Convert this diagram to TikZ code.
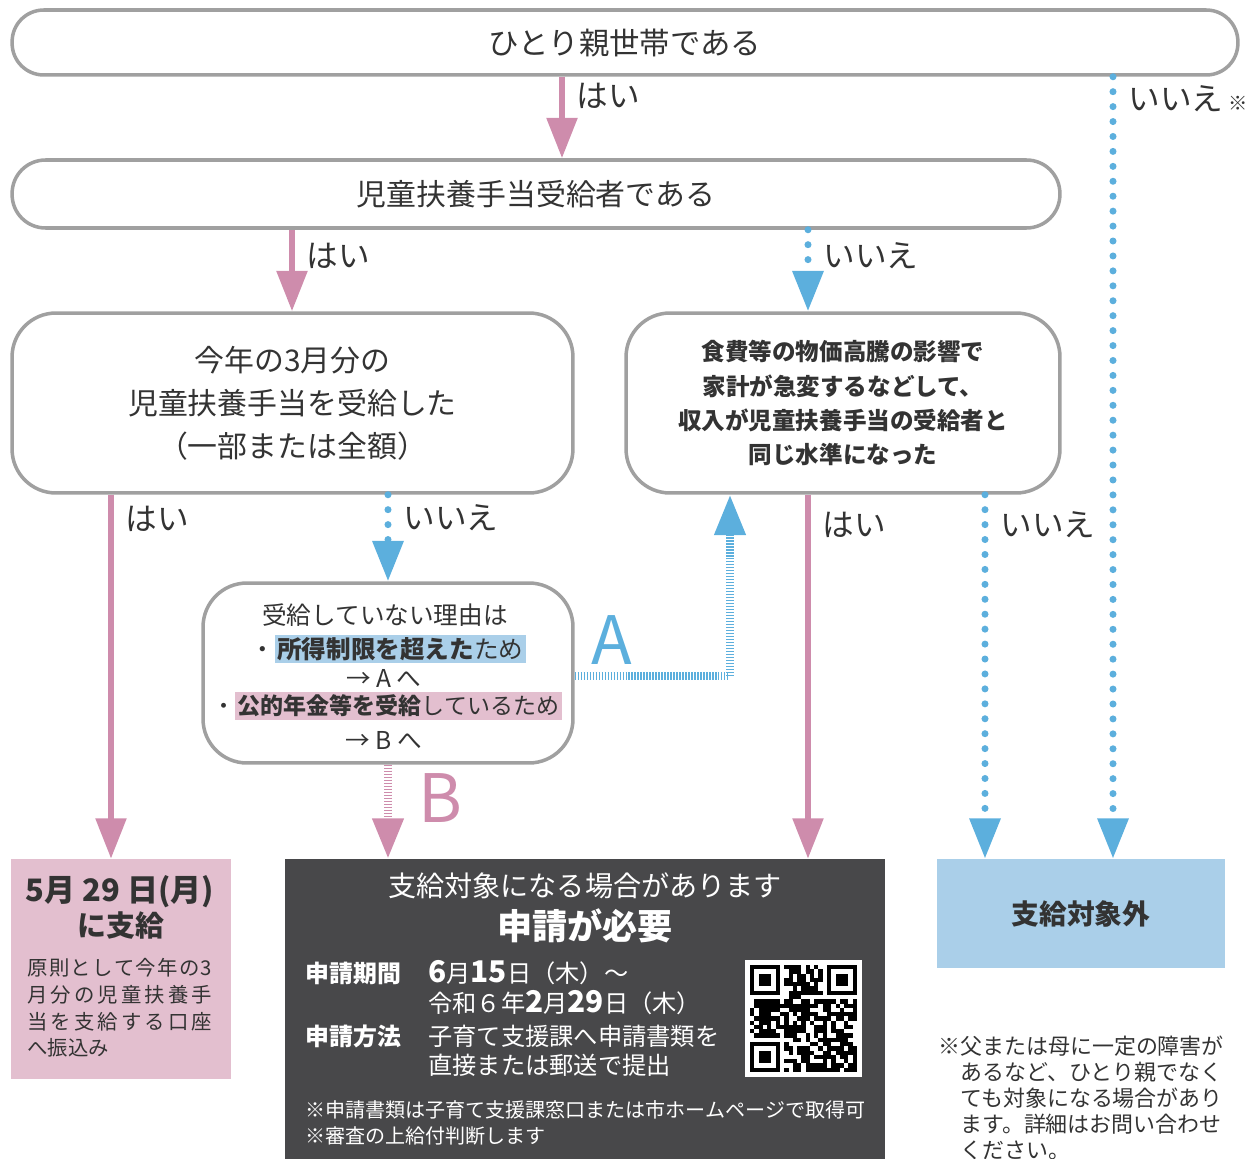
\documentclass[tikz,border=0pt]{standalone}
\usepackage{fontspec}
\setmainfont{Noto Sans CJK JP}
\usetikzlibrary{arrows.meta,positioning,calc}

\definecolor{graybd}{RGB}{160,160,160}
\definecolor{txt}{RGB}{51,51,51}
\definecolor{pinkarr}{RGB}{206,140,172}
\definecolor{bluearr}{RGB}{92,175,221}
\definecolor{pinkbox}{RGB}{227,191,207}
\definecolor{bluebox}{RGB}{170,207,233}
\definecolor{darkbox}{RGB}{72,72,74}

\newcommand{\fsz}[2]{\fontsize{#1pt}{#2pt}\selectfont}

\begin{document}
\begin{tikzpicture}
	[   x=0.02cm,y=-0.02cm,
		rbox/.style={draw=graybd,line width=2pt,rounded corners=#1,fill=white,text=txt,inner sep=0pt,align=center},
		rbox/.default=25pt,
		lbl/.style={text=txt,inner sep=0pt,anchor=west,xshift=0.24cm,font=\fsz{18}{20}},
		wtxt/.style={text=txt,inner sep=0pt,font=\fsz{14}{16}},
		dtxt/.style={text=white,inner sep=0pt,anchor=west,font=\fsz{13.8}{16}},
	]
	\tikzset{yes arrow/.style={draw=pinkarr,line width=3.4pt,-{Triangle[width=17pt,length=23pt]}}}
	\tikzset{no arrow/.style={draw=bluearr,line width=4pt,line cap=round,dash pattern=on 0pt off 8.5pt,-{Triangle[width=17pt,length=23pt]}}}
	\tikzset{hatch arrow/.style={line width=4.5pt,dash pattern=on 0.8pt off 0.9pt,-{Triangle[width=17pt,length=23pt]}}}
	\useasboundingbox (0,0) rectangle (1248,1159);
	
	% boxes
	\node[rbox=18pt,minimum width=24.52cm,minimum height=1.3cm,font=\fsz{17.3}{20}] (top) at (625,42.5) {ひとり親世帯である};
	\node[rbox=19pt,minimum width=20.96cm,minimum height=1.36cm,font=\fsz{17}{20}] (kyo) at (536,194) {児童扶養手当受給者である};
	\node[rbox,minimum width=11.22cm,minimum height=3.6cm,font=\fsz{17}{24.5}] (mar) at (292.5,403) {今年の3月分の\\児童扶養手当を受給した\\（一部または全額）};
	\node[rbox,minimum width=8.68cm,minimum height=3.6cm,font=\bfseries\fsz{13.4}{19.4}] (inc) at (843,403) {食費等の物価高騰の影響で\\家計が急変するなどして、\\収入が児童扶養手当の受給者と\\同じ水準になった};
	\node[rbox,minimum width=7.4cm,minimum height=3.6cm] (why) at (388,673) {};
	
	\setlength{\fboxsep}{1.5pt}
	\node[wtxt] (why1) at (385,615) {受給していない理由は};
	\node[wtxt] (why2) at (388,649) {・\colorbox{bluebox}{\textbf{所得制限を超えた}ため}};
	\node[wtxt] (why3) at (384,678) {→ A へ};
	\node[wtxt,font=\fsz{13.1}{16}] (why4) at (387,706) {・\colorbox{pinkbox}{\textbf{公的年金等を受給}しているため}};
	\node[wtxt] (why5) at (384,740) {→ B へ};
	
	% results
	\node[fill=pinkbox,minimum width=4.4cm,minimum height=4.4cm,inner sep=0pt] (pay) at (121,969) {};
	\node[text=txt,inner sep=0pt,font=\bfseries\fsz{17.6}{18}] (pay1) at (120,892) {5月 29 日(月)};
	\node[text=txt,inner sep=0pt,font=\bfseries\fsz{16.5}{18}] (pay2) at (121,926) {に支給};
	\node[text=txt,inner sep=0pt,anchor=west,align=left,font=\fsz{11.6}{15.1}] (pay3) at (27,1008)
		{\makebox[3.7cm][s]{原\hfill 則\hfill と\hfill し\hfill て\hfill 今\hfill 年\hfill の\hfill 3}\\
		 \makebox[3.7cm][s]{月\hfill 分\hfill の\hfill 児\hfill 童\hfill 扶\hfill 養\hfill 手}\\
		 \makebox[3.7cm][s]{当\hfill を\hfill 支\hfill 給\hfill す\hfill る\hfill 口\hfill 座}\\
		 へ振込み};
	
	\node[fill=darkbox,minimum width=12cm,minimum height=6.22cm,inner sep=0pt] (apply) at (585,1014.5) {};
	\node[text=white,inner sep=0pt,font=\fsz{16}{18}] (app1) at (585,886) {支給対象になる場合があります};
	\node[text=white,inner sep=0pt,font=\bfseries\fsz{20}{22}] (app2) at (585,926) {申請が必要};
	\node[dtxt,font=\bfseries\fsz{13.6}{16}] (term) at (305,973) {申請期間};
	\node[dtxt] (term1) at (428,973) {{\bfseries\fsz{17}{18}6}月{\bfseries\fsz{17}{18}15}日（木）～};
	\node[dtxt] (term2) at (428,1003) {令和６年{\bfseries\fsz{17}{18}2}月{\bfseries\fsz{17}{18}29}日（木）};
	\node[dtxt,font=\bfseries\fsz{13.6}{16}] (how) at (305,1036) {申請方法};
	\node[dtxt] (how1) at (428,1036) {子育て支援課へ申請書類を};
	\node[dtxt] (how2) at (428,1065) {直接または郵送で提出};
	\node[dtxt,font=\fsz{11.4}{14}] (memo1) at (305,1110) {※申請書類は子育て支援課窓口または市ホームページで取得可};
	\node[dtxt,font=\fsz{11.4}{14}] (memo2) at (305,1136) {※審査の上給付判断します};
	
	% qr code
	\fill[white] (745,960) rectangle (862,1077);
	\pgfmathsetseed{7}
	\foreach \i in {0,...,24}
	{
		\foreach \j in {0,...,24}
		{
			\pgfmathrandominteger{\qb}{0}{2}
			\ifnum \qb>0
			\fill[black] ({750+\i*4.28},{965+\j*4.28}) rectangle ++(4.28,4.28);
			\fi
		}
	}
	\foreach \fx/\fy/\wx/\wy in {750/965/750/965, 827.04/965/822.76/965, 750/1042.04/750/1037.76}
	{
		\fill[white] (\wx,\wy) rectangle ++(34.24,34.24);
		\fill[black] (\fx,\fy) rectangle ++(29.96,29.96);
		\fill[white] ({\fx+4.28},{\fy+4.28}) rectangle ++(21.4,21.4);
		\fill[black] ({\fx+8.56},{\fy+8.56}) rectangle ++(12.84,12.84);
	}
	
	\node[fill=bluebox,minimum width=5.76cm,minimum height=2.18cm,text=txt,font=\bfseries\fsz{15.8}{18}] (out) at (1081,913.5) {支給対象外};
	
	\node[text=txt,anchor=north west,align=left,inner sep=0pt,font=\fsz{12.5}{14.8}] (note) at (938,1036)
		{※父または母に一定の障害が\\\hspace*{1em}あるなど、ひとり親でなく\\\hspace*{1em}ても対象になる場合があり\\\hspace*{1em}ます。詳細はお問い合わせ\\\hspace*{1em}ください。};
	
	% columns and rows for connectors
	\coordinate (c1) at (111,0);
	\coordinate (c2) at (292,0);
	\coordinate (c3) at (388,0);
	\coordinate (c4) at (562,0);
	\coordinate (c5) at (730,0);
	\coordinate (c6) at (808,0);
	\coordinate (c7) at (985,0);
	\coordinate (c8) at (1113,0);
	\coordinate (rA) at (0,676);
	
	% connectors
	\path[yes arrow] (top.south -| c4) -- node[lbl,pos=.24] {はい} (kyo.north -| c4);
	\path[no arrow] (top.south -| c8) -- node[lbl,pos=.028] {いいえ\,{\fsz{11}{12}※}} (out.north -| c8);
	\path[yes arrow] (kyo.south -| c2) -- node[lbl,pos=.32] {はい} (mar.north -| c2);
	\path[no arrow] (kyo.south -| c6) -- node[lbl,pos=.32] {いいえ} (inc.north -| c6);
	\path[yes arrow] (mar.south -| c1) -- node[lbl,pos=.066] {はい} (pay.north -| c1);
	\path[no arrow] (mar.south -| c3) -- node[lbl,pos=.27] {いいえ} (why.north -| c3);
	\path[yes arrow] (inc.south -| c6) -- node[lbl,pos=.082] {はい} (apply.north -| c6);
	\path[no arrow] (inc.south -| c7) -- node[lbl,pos=.082] {いいえ} (out.north -| c7);
	
	\path[hatch arrow,draw=bluearr] (why.east |- rA) -| node[pos=.12,anchor=south,inner sep=0pt,yshift=0.16cm,text=bluearr,font=\fsz{38}{40}] {A} (inc.south -| c5);
	\path[hatch arrow,draw=pinkarr] (why.south -| c3) -- node[pos=.35,anchor=west,inner sep=0pt,xshift=0.54cm,text=pinkarr,font=\fsz{38}{40}] {B} (apply.north -| c3);
	\end{tikzpicture}
\end{document}
